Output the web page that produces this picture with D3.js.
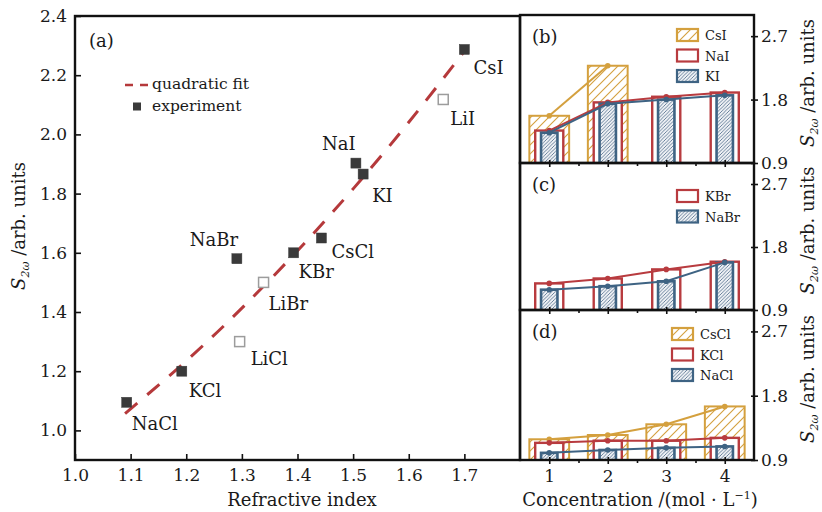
<!DOCTYPE html>
<html>
<head>
<meta charset="utf-8">
<script src="https://cdn.jsdelivr.net/npm/d3@7/dist/d3.min.js"></script>
<style>
  body { margin: 0; background: #fff; }
  svg { display: block; }
  text { font-family: "DejaVu Serif", serif; fill: #1a1a1a; }
</style>
</head>
<body>
<svg id="chart" width="822" height="512"></svg>
<script>
// ---- Panel (a): second-harmonic signal vs refractive index ----
const salts          = ["NaCl", "KCl", "LiCl", "LiBr", "NaBr", "KBr", "CsCl", "NaI", "KI", "LiI", "CsI"];
const refractiveIdx  = [1.093, 1.192, 1.296, 1.339, 1.291, 1.393, 1.443, 1.505, 1.518, 1.662, 1.700];
const signal         = [1.095, 1.200, 1.300, 1.500, 1.580, 1.600, 1.650, 1.903, 1.866, 2.118, 2.287];
const lithiumSalt    = [false, false, true, true, false, false, false, false, false, true, false];
const fitIdx         = [1.09, 1.20, 1.30, 1.40, 1.50, 1.60, 1.70];
const fitSignal      = [1.057, 1.235, 1.413, 1.607, 1.816, 2.041, 2.281];
const idxTicks       = [1.0, 1.1, 1.2, 1.3, 1.4, 1.5, 1.6, 1.7];
const signalTicks    = [1.0, 1.2, 1.4, 1.6, 1.8, 2.0, 2.2, 2.4];

// ---- Panels (b)-(d): signal vs concentration ----
const concentration = [1, 2, 3, 4];
const csI  = [1.57, 2.28];
const naI  = [1.36, 1.76, 1.84, 1.90];
const kI   = [1.33, 1.74, 1.80, 1.86];
const kBr  = [1.28, 1.35, 1.48, 1.59];
const naBr = [1.19, 1.24, 1.31, 1.58];
const csCl = [1.19, 1.25, 1.40, 1.65];
const kCl  = [1.14, 1.17, 1.17, 1.21];
const naCl = [1.00, 1.04, 1.07, 1.09];
const sideTicks = [0.9, 1.8, 2.7];

// ---- styling ----
const GOLD = "#d4a03e", RED = "#b83b3f", BLUE = "#3e6383";
const FIT = "#b5393b", MARK = "#3a3a3a", OPEN = "#9c9c9c";

const svg = d3.select("#chart");
const defs = svg.append("defs");

// wide diagonal hatch for the Cs bars
const hg = defs.append("pattern").attr("id", "hatchGold")
  .attr("patternUnits", "userSpaceOnUse").attr("width", 9).attr("height", 9);
hg.append("rect").attr("width", 9).attr("height", 9).attr("fill", "#fff");
hg.append("path").attr("d", "M-1,1 L1,-1 M0,9 L9,0 M8,10 L10,8")
  .attr("stroke", GOLD).attr("stroke-width", 1.1);

// dense diagonal hatch for the smallest bars
const hb = defs.append("pattern").attr("id", "hatchBlue")
  .attr("patternUnits", "userSpaceOnUse").attr("width", 3.5).attr("height", 3.5);
hb.append("rect").attr("width", 3.5).attr("height", 3.5).attr("fill", "#eef1f5");
hb.append("path").attr("d", "M-1,1 L1,-1 M0,3.5 L3.5,0 M2.5,4.5 L4.5,2.5")
  .attr("stroke", "#56718d").attr("stroke-width", 0.85);

function cleanAxis(g, size) {
  g.select(".domain").remove();
  g.attr("font-family", null).attr("font-size", null);
  g.selectAll("line").attr("stroke", "#111").attr("stroke-width", 1.6);
  g.selectAll("text").style("font-size", size + "px").attr("fill", "#1a1a1a");
}

// =============== Panel (a) ===============
const xA = d3.scaleLinear().domain([1.0, 1.8]).range([75, 520]);
const yA = d3.scaleLinear().domain([0.9, 2.4]).range([460, 16]);

svg.append("g").attr("transform", "translate(0,460)")
  .call(d3.axisBottom(xA).tickValues(idxTicks).tickSizeInner(-6).tickSizeOuter(0)
        .tickPadding(9).tickFormat(d3.format(".1f")))
  .call(g => cleanAxis(g, 17));

svg.append("g").attr("transform", "translate(75,0)")
  .call(d3.axisLeft(yA).tickValues(signalTicks).tickSizeInner(-6).tickSizeOuter(0)
        .tickPadding(8).tickFormat(d3.format(".1f")))
  .call(g => cleanAxis(g, 17));

// quadratic fit curve
svg.append("path")
  .datum(fitIdx.map((x, i) => [x, fitSignal[i]]))
  .attr("d", d3.line().x(d => xA(d[0])).y(d => yA(d[1])).curve(d3.curveNatural))
  .attr("fill", "none").attr("stroke", FIT).attr("stroke-width", 3)
  .attr("stroke-dasharray", "16,13");

// experimental points
const pts = salts.map((s, i) => ({ name: s, x: refractiveIdx[i], y: signal[i], open: lithiumSalt[i] }));
svg.append("g").selectAll("rect").data(pts).join("rect")
  .attr("x", d => xA(d.x) - 5).attr("y", d => yA(d.y) - 5)
  .attr("width", 10).attr("height", 10)
  .attr("fill", d => d.open ? "#fff" : MARK)
  .attr("stroke", d => d.open ? OPEN : MARK)
  .attr("stroke-width", d => d.open ? 1.5 : 0.5);

// point labels: [dx, dy to baseline, anchor]
const labelPlace = {
  NaCl: [5, 28, "start"], KCl: [7, 26, "start"], LiCl: [11, 23, "start"],
  LiBr: [5, 28, "start"], NaBr: [-23, -13, "middle"], KBr: [5, 25, "start"],
  CsCl: [10, 20, "start"], NaI: [-17, -13, "middle"], KI: [9, 28, "start"],
  LiI: [7, 26, "start"], CsI: [9, 25, "start"]
};
svg.append("g").selectAll("text").data(pts).join("text")
  .attr("x", d => xA(d.x) + labelPlace[d.name][0])
  .attr("y", d => yA(d.y) + labelPlace[d.name][1])
  .attr("text-anchor", d => labelPlace[d.name][2])
  .style("font-size", "18px")
  .text(d => d.name);

// legend of panel (a)
svg.append("line").attr("x1", 125).attr("x2", 149).attr("y1", 85).attr("y2", 85)
  .attr("stroke", FIT).attr("stroke-width", 2.5).attr("stroke-dasharray", "8,7");
svg.append("text").attr("x", 152).attr("y", 89).style("font-size", "15.5px").text("quadratic fit");
svg.append("rect").attr("x", 133).attr("y", 102.5).attr("width", 8).attr("height", 8).attr("fill", MARK);
svg.append("text").attr("x", 152).attr("y", 111).style("font-size", "15.5px").text("experiment");

svg.append("text").attr("x", 89).attr("y", 47).style("font-size", "18px").text("(a)");

// frame of panel (a)
svg.append("rect").attr("x", 75).attr("y", 16).attr("width", 445).attr("height", 444)
  .attr("fill", "none").attr("stroke", "#111").attr("stroke-width", 2.4);

// axis titles of panel (a)
svg.append("text").attr("x", 302).attr("y", 506).attr("text-anchor", "middle")
  .style("font-size", "18px").text("Refractive index");

function signalTitle(x, y) {
  const t = svg.append("text")
    .attr("transform", `translate(${x},${y}) rotate(-90)`)
    .attr("text-anchor", "middle").style("font-size", "18px");
  t.append("tspan").style("font-style", "italic").text("S");
  t.append("tspan").attr("dy", 4).style("font-size", "11px").style("font-style", "italic").text("2ω");
  t.append("tspan").attr("dy", -4).text(" /arb. units");
}
signalTitle(25, 226);

// =============== Panels (b)-(d) ===============
const xR = d3.scaleLinear().domain([0.5, 4.5]).range([520, 754]);
const barWidth = { wide: 0.68, mid: 0.48, narrow: 0.28 };

const panels = [
  { tag: "(b)", top: 15, bottom: 163, legendX: 677, legendY: 29, textX: 705,
    series: [
      { name: "CsI", values: csI, color: GOLD, fill: "url(#hatchGold)", w: barWidth.wide, sw: 2 },
      { name: "NaI", values: naI, color: RED, fill: "#fff", w: barWidth.mid, sw: 2.4 },
      { name: "KI",  values: kI,  color: BLUE, fill: "url(#hatchBlue)", w: barWidth.narrow, sw: 2.6 }
    ] },
  { tag: "(c)", top: 163, bottom: 310, legendX: 677, legendY: 190, textX: 705,
    series: [
      { name: "KBr",  values: kBr,  color: RED, fill: "#fff", w: barWidth.mid, sw: 2.4 },
      { name: "NaBr", values: naBr, color: BLUE, fill: "url(#hatchBlue)", w: barWidth.narrow, sw: 2.6 }
    ] },
  { tag: "(d)", top: 310, bottom: 460, legendX: 672, legendY: 328, textX: 700,
    series: [
      { name: "CsCl", values: csCl, color: GOLD, fill: "url(#hatchGold)", w: barWidth.wide, sw: 2 },
      { name: "KCl",  values: kCl,  color: RED, fill: "#fff", w: barWidth.mid, sw: 2.4 },
      { name: "NaCl", values: naCl, color: BLUE, fill: "url(#hatchBlue)", w: barWidth.narrow, sw: 2.6 }
    ] }
];

panels.forEach((p, pi) => {
  const y = d3.scaleLinear().domain([0.9, 3.0]).range([p.bottom, p.top]);
  const clipId = "clip" + pi;
  defs.append("clipPath").attr("id", clipId).append("rect")
    .attr("x", 520).attr("y", p.top).attr("width", 234).attr("height", p.bottom - p.top);

  const plot = svg.append("g").attr("clip-path", `url(#${clipId})`);

  // bars, widest first so narrower ones sit on top
  p.series.forEach(s => {
    plot.append("g").selectAll("rect").data(s.values).join("rect")
      .attr("x", (v, i) => xR(concentration[i] - s.w / 2))
      .attr("width", xR(s.w) - xR(0))
      .attr("y", v => y(v))
      .attr("height", v => y(0.9) - y(v) + 6)
      .attr("fill", s.fill).attr("stroke", s.color).attr("stroke-width", s.sw);
  });

  // connecting lines with dots at bar tops
  p.series.forEach(s => {
    const line = d3.line().x((v, i) => xR(concentration[i])).y(v => y(v));
    plot.append("path").datum(s.values).attr("d", line)
      .attr("fill", "none").attr("stroke", s.color).attr("stroke-width", 2);
    plot.append("g").selectAll("circle").data(s.values).join("circle")
      .attr("cx", (v, i) => xR(concentration[i])).attr("cy", v => y(v))
      .attr("r", 2.8).attr("fill", s.color);
  });

  // right axis
  svg.append("g").attr("transform", "translate(754,0)")
    .call(d3.axisRight(y).tickValues(sideTicks).tickSizeInner(4).tickSizeOuter(0)
          .tickPadding(3).tickFormat(d3.format(".1f")))
    .call(g => cleanAxis(g, 17))
    .call(g => g.selectAll(".tick line").attr("x1", -3));

  // bottom axis: major ticks at each concentration, minor ticks between
  const isLast = pi === panels.length - 1;
  svg.append("g").attr("transform", `translate(0,${p.bottom})`)
    .call(d3.axisBottom(xR).tickValues(concentration).tickSizeInner(4).tickSizeOuter(0)
          .tickPadding(6).tickFormat(isLast ? d3.format("d") : () => ""))
    .call(g => cleanAxis(g, 17))
    .call(g => g.selectAll(".tick line").attr("y1", -3));
  svg.append("g").attr("transform", `translate(0,${p.bottom})`)
    .call(d3.axisBottom(xR).tickValues([1.5, 2.5, 3.5]).tickSizeInner(3).tickSizeOuter(0).tickFormat(() => ""))
    .call(g => cleanAxis(g, 17));

  // frame
  svg.append("rect").attr("x", 520).attr("y", p.top).attr("width", 234).attr("height", p.bottom - p.top)
    .attr("fill", "none").attr("stroke", "#111").attr("stroke-width", 2.4);

  svg.append("text").attr("x", 532).attr("y", p.top + 28).style("font-size", "18px").text(p.tag);

  // legend
  p.series.forEach((s, i) => {
    const ly = p.legendY + i * 20.5;
    svg.append("rect").attr("x", p.legendX).attr("y", ly).attr("width", 21).attr("height", 12)
      .attr("fill", s.fill).attr("stroke", s.color).attr("stroke-width", 2.2);
    svg.append("text").attr("x", p.textX).attr("y", ly + 11).style("font-size", "13px").text(s.name);
  });

  signalTitle(814, (p.top + p.bottom) / 2 - 6);
});

// bottom title of the concentration panels
const ct = svg.append("text").attr("x", 640).attr("y", 506).attr("text-anchor", "middle")
  .style("font-size", "18px");
ct.append("tspan").text("Concentration /(mol · L");
ct.append("tspan").attr("dy", -7).style("font-size", "11px").text("−1");
ct.append("tspan").attr("dy", 7).text(")");
</script>
</body>
</html>
